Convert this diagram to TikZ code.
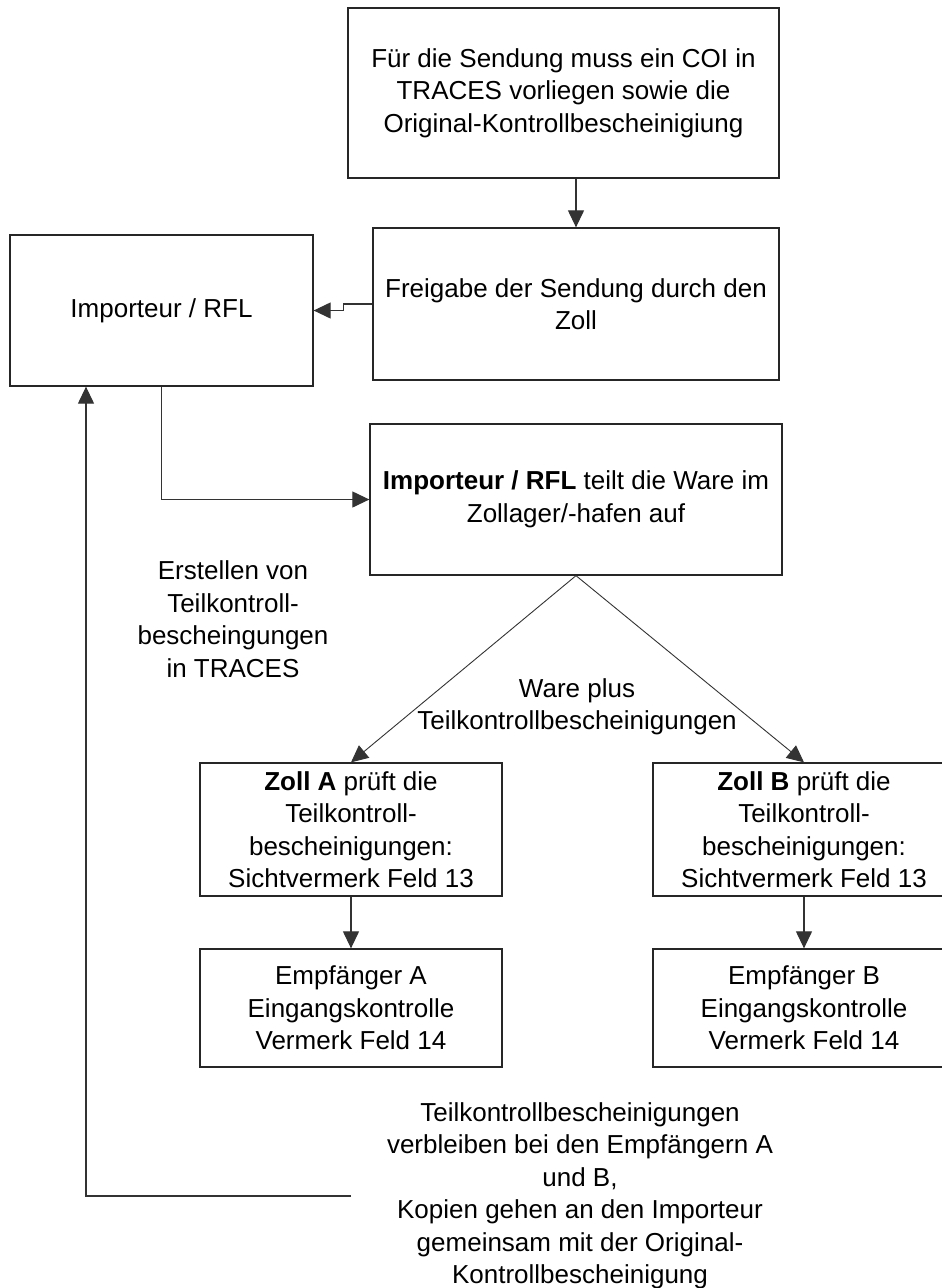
\documentclass[tikz,border=0pt]{standalone}
\usepackage{fontspec}
\setmainfont{Liberation Sans}
\usetikzlibrary{arrows.meta}

\newcommand{\boxfont}{\fontsize{26}{32.5}\selectfont}

\tikzset{
  flowbox/.style={draw=black!85, line width=1.3pt, align=center, inner sep=0pt, font=\boxfont},
  flowtext/.style={align=center, inner sep=0pt, font=\boxfont},
  flowline/.style={draw=black!80, line width=1.2pt, -{Triangle[length=17pt,width=16pt]}},
}

\begin{document}
\begin{tikzpicture}[x=1pt, y=-1pt]
    \useasboundingbox (0, 0) rectangle (942, 1288);
    \clip (0, 0) rectangle (942, 1288);

    \node[flowbox, minimum width=431pt, minimum height=170pt] (coi) at (563.5, 93)
      {Für die Sendung muss ein COI in\\TRACES vorliegen sowie die\\Original-Kontrollbescheinigiung};
    \node[flowbox, minimum width=406pt, minimum height=152pt] (zoll) at (576, 304)
      {Freigabe der Sendung durch den\\Zoll};
    \node[flowbox, minimum width=303pt, minimum height=151pt] (imp) at (161.5, 310.5)
      {Importeur / RFL};
    \node[flowbox, minimum width=412pt, minimum height=151pt] (teilt) at (576, 499.5)
      {\textbf{Importeur / RFL} teilt die Ware im\\Zollager/-hafen auf};

    \node[flowbox, minimum width=302pt, minimum height=133pt] (zollA) at (351, 829.5)
      {\textbf{Zoll A} prüft die\\Teilkontroll-\\bescheinigungen:\\Sichtvermerk Feld 13};
    \node[flowbox, minimum width=302pt, minimum height=118pt] (empfA) at (351, 1008)
      {Empfänger A\\Eingangskontrolle\\Vermerk Feld 14};
    \node[flowbox, minimum width=302pt, minimum height=133pt] (zollB) at (804, 829.5)
      {\textbf{Zoll B} prüft die\\Teilkontroll-\\bescheinigungen:\\Sichtvermerk Feld 13};
    \node[flowbox, minimum width=302pt, minimum height=118pt] (empfB) at (804, 1008)
      {Empfänger B\\Eingangskontrolle\\Vermerk Feld 14};

    \node[flowtext] (erst) at (233, 619)
      {Erstellen von\\Teilkontroll-\\bescheingungen\\in TRACES};
    \node[flowtext] (ware) at (577, 707)
      {Ware plus\\Teilkontrollbescheinigungen};
    \node[flowtext] (rest) at (580, 1196)
      {Teilkontrollbescheinigungen\\verbleiben bei den Empfängern A\\und B,\\Kopien gehen an den Importeur\\gemeinsam mit der Original-\\Kontrollbescheinigung};

    \draw[flowline] (coi.south -| zoll.north) -- (zoll.north);
    \draw[flowline] (zoll.west) -- ++(-29, 0) |- (imp.east);
    \draw[flowline] (imp.south) |- (teilt.west);
    \draw[flowline, line width=0.9pt] (teilt.south) -- (zollA.north);
    \draw[flowline, line width=0.9pt] (teilt.south) -- (zollB.north);
    \draw[flowline] (zollA.south) -- (empfA.north);
    \draw[flowline] (zollB.south) -- (empfB.north);

    \coordinate (ret) at (351, 1196);
    \draw[flowline] (ret) -| ([xshift=-75.5pt]imp.south);

\end{tikzpicture}
\end{document}
